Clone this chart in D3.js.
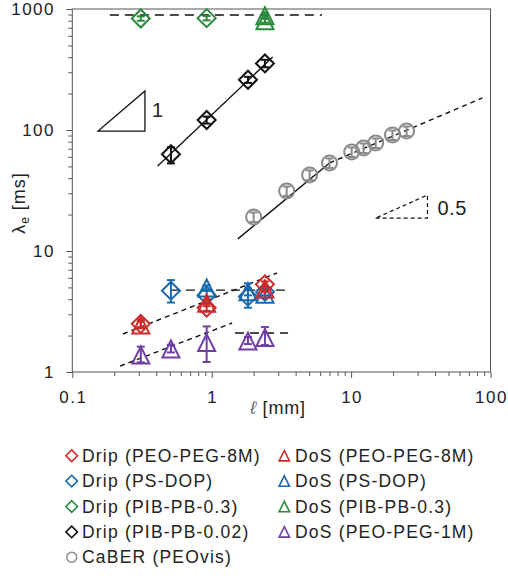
<!DOCTYPE html>
<html><head><meta charset="utf-8">
<script src="https://cdn.jsdelivr.net/npm/d3@7"></script>
<style>
html,body{margin:0;padding:0;background:#fff;}
text{font-family:"Liberation Sans",Arial,Helvetica,sans-serif;fill:#222;}
</style></head>
<body>
<svg id="chart" width="508" height="576"></svg>
<script>
// ---------- data (x = ℓ [mm], y = λe [ms], lo/hi = error bar) ----------
const dripPEO8M = [{x:0.31,y:2.5,lo:2.35,hi:2.7},{x:0.92,y:3.4,lo:3.2,hi:3.65},{x:2.41,y:5.3,lo:5.0,hi:5.6}];
const dosPEO8M  = [{x:0.31,y:2.45,lo:2.3,hi:2.6},{x:0.92,y:3.7,lo:3.5,hi:3.9},{x:2.41,y:4.85,lo:4.6,hi:5.1}];
const dripPSDOP = [{x:0.51,y:4.7,lo:3.75,hi:5.75},{x:0.92,y:4.3,lo:3.9,hi:4.7},{x:1.82,y:4.2,lo:3.4,hi:5.4},{x:2.41,y:4.6,lo:4.3,hi:4.9}];
const dosPSDOP  = [{x:0.92,y:4.95,lo:4.7,hi:5.2},{x:1.82,y:4.6,lo:4.3,hi:4.9},{x:2.41,y:4.4,lo:4.1,hi:4.7}];
const dripPIB03 = [{x:0.31,y:835,lo:800,hi:870},{x:0.92,y:840,lo:805,hi:875}];
const dosPIB03  = [{x:2.41,y:880,lo:840,hi:920},{x:2.41,y:800,lo:770,hi:830}];
const dripPIB002= [{x:0.51,y:63,lo:53,hi:72},{x:0.92,y:121,lo:113,hi:129},{x:1.82,y:260,lo:245,hi:275},{x:2.41,y:355,lo:330,hi:380}];
const dosPEO1M  = [{x:0.31,y:1.38,lo:1.2,hi:1.62},{x:0.51,y:1.55,lo:1.45,hi:1.68},{x:0.92,y:1.75,lo:1.21,hi:2.38},{x:1.82,y:1.8,lo:1.7,hi:1.95},{x:2.41,y:1.93,lo:1.67,hi:2.35}];
const caberX = [2.0,3.45,5.04,7.0,10.1,12.3,15.0,19.8,25.0];
const caberY = [19.1,31.3,42.5,53.4,65.8,71,78,91,98];

// fit / guide lines [x1,y1,x2,y2]
const fitBlack   = [0.41,50.4,2.74,401];
const fitCaberS  = [1.54,12.6,7.0,53.4];
const fitCaberD  = [7.0,53.4,87.6,184];
const fitGreen   = [0.186,892,6.18,892];
const fitBlue    = [0.51,4.75,3.36,4.75];
const fitRed     = [0.231,2.06,2.94,6.58];
const fitPurple  = [0.22,1.12,1.40,2.54];
const fitPurpleH = [1.47,2.1,3.53,2.1];
const slope1Tri  = [[0.153,98],[0.332,98],[0.332,210]];
const slope05Tri = [[15,18.7],[35.3,18.7],[35.3,29]];

const xTickLabels = ["0.1","1","10","100"];
const yTickLabels = ["1","10","100","1000"];
const legendLabels = ["Drip (PEO-PEG-8M)","Drip (PS-DOP)","Drip (PIB-PB-0.3)","Drip (PIB-PB-0.02)","CaBER (PEOvis)",
                      "DoS (PEO-PEG-8M)","DoS (PS-DOP)","DoS (PIB-PB-0.3)","DoS (PEO-PEG-1M)"];

// ---------- styles ----------
const RED="#cf2a2a", BLUE="#1a6aae", GREEN="#2b8a3e", BLACK="#111", PURPLE="#6f3fa3", GRAY="#8a8a8a";

const svg = d3.select("#chart");
const x = d3.scaleLog().domain([0.1,100]).range([72.3,490.5]);
const y = d3.scaleLog().domain([1,1000]).range([372,9]);

// frame
svg.append("rect").attr("x",x(0.1)).attr("y",y(1000)).attr("width",x(100)-x(0.1)).attr("height",y(1)-y(1000))
  .attr("fill","none").attr("stroke","#555").attr("stroke-width",1);

// ticks
const minor = [];
for (let d=0.1; d<100; d*=10) for (let k=1;k<10;k++) minor.push(+(d*k).toPrecision(3));
minor.push(100);
const yminor = [];
for (let d=1; d<1000; d*=10) for (let k=1;k<10;k++) yminor.push(+(d*k).toPrecision(3));
yminor.push(1000);
const isMajor = v => Math.abs(Math.log10(v) - Math.round(Math.log10(v))) < 1e-6;

const xAxis = d3.axisBottom(x).tickValues(minor).tickFormat("").tickSize(0);
const gx = svg.append("g").attr("transform",`translate(0,${y(1)})`).call(xAxis);
gx.select(".domain").remove();
gx.selectAll(".tick line").attr("y2",d=>isMajor(d)?6:4).attr("stroke","#555");
const yAxis = d3.axisLeft(y).tickValues(yminor).tickFormat("").tickSize(0);
const gy = svg.append("g").attr("transform",`translate(${x(0.1)},0)`).call(yAxis);
gy.select(".domain").remove();
gy.selectAll(".tick line").attr("x2",d=>isMajor(d)?-6:-4).attr("stroke","#555");

// tick labels
svg.append("g").selectAll("text").data(xTickLabels).join("text")
  .attr("x",d=>x(+d)+1).attr("y",403).attr("text-anchor","middle")
  .attr("font-size",17).attr("letter-spacing",1.5).text(d=>d);
svg.append("g").selectAll("text").data(yTickLabels).join("text")
  .attr("x",55).attr("y",d=>y(+d)+6).attr("text-anchor","end")
  .attr("font-size",17).attr("letter-spacing",1.5).text(d=>d);

// axis titles
const xt = svg.append("text").attr("x",278).attr("y",414).attr("text-anchor","middle").attr("font-size",18).attr("letter-spacing",0.8);
xt.append("tspan").attr("font-style","italic").attr("fill","#666").text("ℓ");
xt.append("tspan").text(" [mm]");
const yt = svg.append("text").attr("transform","translate(25,203) rotate(-90)").attr("text-anchor","middle").attr("font-size",18).attr("letter-spacing",1);
yt.append("tspan").text("λ");
yt.append("tspan").attr("font-size",12).attr("dy",4).text("e");
yt.append("tspan").attr("dy",-4).text(" [ms]");

// lines
function seg(c, color, dash){
  svg.append("line").attr("x1",x(c[0])).attr("y1",y(c[1])).attr("x2",x(c[2])).attr("y2",y(c[3]))
    .attr("stroke",color).attr("stroke-width",1.4).attr("stroke-dasharray",dash||null);
}
seg(fitGreen,"#111","9,6");
seg(fitBlack,"#111");
seg(fitCaberS,"#111");
seg(fitCaberD,"#111","5,4");
seg(fitBlue,"#111","9,6");
seg(fitRed,"#111","5,4");
seg(fitPurple,"#111","5,4");
seg(fitPurpleH,"#111","9,6");

// slope triangles
const triLine = d3.line().x(d=>x(d[0])).y(d=>y(d[1]));
svg.append("path").attr("d",triLine(slope1Tri)+"Z").attr("fill","none").attr("stroke","#111").attr("stroke-width",1.3);
svg.append("text").attr("x",x(slope1Tri[2][0])+7).attr("y",y(150)+8).attr("font-size",20).text("1");
svg.append("path").attr("d",triLine(slope05Tri)+"Z").attr("fill","none").attr("stroke","#111").attr("stroke-width",1.2).attr("stroke-dasharray","4,3");
svg.append("text").attr("x",x(slope05Tri[2][0])+10).attr("y",y(23)+8).attr("font-size",20).attr("letter-spacing",0.5).text("0.5");

// markers
const diamond = s => `M0,${-s}L${s},0L0,${s}L${-s},0Z`;
const triangle = s => `M0,${-s}L${s},${s}L${-s},${s}Z`;
function errbars(data, color){
  const g = svg.append("g").attr("stroke",color).attr("stroke-width",2).attr("fill","none");
  data.forEach(d=>{
    g.append("line").attr("x1",x(d.x)).attr("x2",x(d.x)).attr("y1",y(d.lo)).attr("y2",y(d.hi));
    g.append("line").attr("x1",x(d.x)-4).attr("x2",x(d.x)+4).attr("y1",y(d.lo)).attr("y2",y(d.lo));
    g.append("line").attr("x1",x(d.x)-4).attr("x2",x(d.x)+4).attr("y1",y(d.hi)).attr("y2",y(d.hi));
  });
}
function markers(data, color, shape){
  errbars(data,color);
  svg.append("g").selectAll("path").data(data).join("path")
    .attr("transform",d=>`translate(${x(d.x)},${y(d.y)})`)
    .attr("d",shape==="d"?diamond(9):triangle(8.5))
    .attr("fill","none").attr("stroke",color).attr("stroke-width",2).attr("stroke-linejoin","miter");
}
markers(dripPIB03,GREEN,"d");
markers(dosPIB03,GREEN,"t");
markers(dripPIB002,BLACK,"d");
markers(dosPEO1M,PURPLE,"t");
markers(dripPSDOP,BLUE,"d");
markers(dosPSDOP,BLUE,"t");
markers(dripPEO8M,RED,"d");
markers(dosPEO8M,RED,"t");

// CaBER circles
const caber = caberX.map((v,i)=>({x:v,y:caberY[i],lo:caberY[i]*0.91,hi:caberY[i]*1.09}));
errbars(caber,GRAY);
svg.append("g").selectAll("circle").data(caber).join("circle")
  .attr("cx",d=>x(d.x)).attr("cy",d=>y(d.y)).attr("r",7.5)
  .attr("fill","none").attr("stroke",GRAY).attr("stroke-width",2);

// legend
const legItems = [
  {c:RED,s:"d"},{c:BLUE,s:"d"},{c:GREEN,s:"d"},{c:BLACK,s:"d"},{c:GRAY,s:"o"},
  {c:RED,s:"t"},{c:BLUE,s:"t"},{c:GREEN,s:"t"},{c:PURPLE,s:"t"}
];
const leg = svg.append("g");
legItems.forEach((it,i)=>{
  const col = i<5?0:1, row = i<5?i:i-5;
  const mx = col===0?71.7:284.3, tx = col===0?82:295, by = 461.7 + row*25.4;
  const cy = by - 6;
  if (it.s==="o") leg.append("circle").attr("cx",mx).attr("cy",cy).attr("r",5).attr("fill","none").attr("stroke",it.c).attr("stroke-width",1.5);
  else leg.append("path").attr("transform",`translate(${mx},${cy})`).attr("d",it.s==="d"?diamond(5.8):triangle(5.2))
      .attr("fill","none").attr("stroke",it.c).attr("stroke-width",1.6);
  leg.append("text").attr("x",tx).attr("y",by).attr("font-size",17.5).attr("letter-spacing",1.2).text(legendLabels[i]);
});
</script>
</body></html>
